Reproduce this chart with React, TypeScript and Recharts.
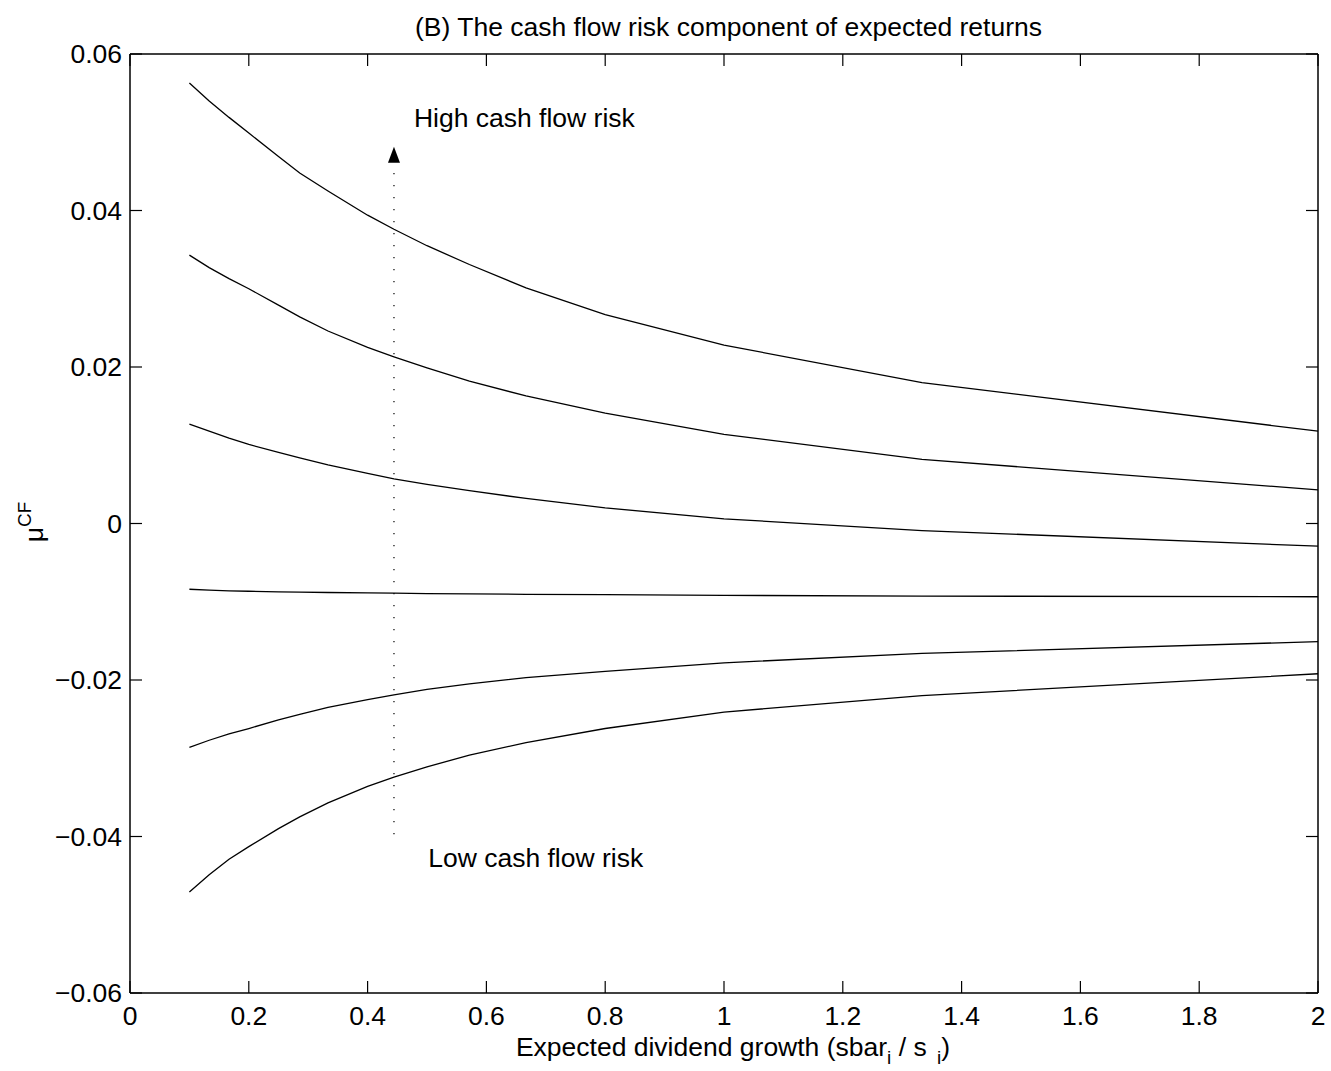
import { LineChart, Line, XAxis, YAxis, ReferenceLine, ReferenceDot } from "recharts";

// x grid of the computed curves (expected dividend growth)
const GROWTH = [0.1, 0.1333, 0.1667, 0.2, 0.25, 0.2857, 0.3333, 0.4, 0.4444, 0.5, 0.5714, 0.6667, 0.8, 1, 1.3333, 2];

// cash flow risk component, highest to lowest risk
const RISK_1 = [0.0563, 0.054, 0.0519, 0.0499, 0.0469, 0.0448, 0.0425, 0.0394, 0.0376, 0.0355, 0.0331, 0.0301, 0.0267, 0.0228, 0.018, 0.0118];
const RISK_2 = [0.0343, 0.0327, 0.0313, 0.03, 0.0279, 0.0264, 0.0246, 0.0225, 0.0213, 0.0199, 0.0182, 0.0163, 0.0141, 0.0114, 0.0082, 0.0043];
const RISK_3 = [0.0127, 0.0118, 0.0109, 0.0101, 0.0091, 0.0084, 0.0075, 0.0064, 0.0057, 0.005, 0.0042, 0.0032, 0.002, 0.0006, -0.0009, -0.0029];
const RISK_4 = [-0.0084, -0.00852, -0.0086, -0.00866, -0.00873, -0.00877, -0.00882, -0.00887, -0.0089, -0.00895, -0.009, -0.00905, -0.0091, -0.00918, -0.00928, -0.00936];
const RISK_5 = [-0.0286, -0.0277, -0.0269, -0.0262, -0.0251, -0.0244, -0.0235, -0.0225, -0.0219, -0.0212, -0.0205, -0.0197, -0.0189, -0.0178, -0.0166, -0.0151];
const RISK_6 = [-0.0471, -0.0449, -0.0429, -0.0413, -0.039, -0.0375, -0.0357, -0.0336, -0.0324, -0.0311, -0.0296, -0.028, -0.0262, -0.0241, -0.022, -0.0192];

const SERIES = [RISK_1, RISK_2, RISK_3, RISK_4, RISK_5, RISK_6];

const X_TICKS = [0, 0.2, 0.4, 0.6, 0.8, 1, 1.2, 1.4, 1.6, 1.8, 2];
const Y_TICKS = [-0.06, -0.04, -0.02, 0, 0.02, 0.04, 0.06];

// dotted arrow and its two captions
const ARROW_X = 0.4444;
const ARROW_FROM = -0.0397;
const ARROW_TO = 0.0461;
const HIGH_LABEL = { x: 0.478, y: 0.0518, text: "High cash flow risk" };
const LOW_LABEL = { x: 0.502, y: -0.0427, text: "Low cash flow risk" };

const FONT = "'Liberation Sans', Arial, Helvetica, sans-serif";
const FS = 26.5;

const data = GROWTH.map((x, i) => {
  const row: Record<string, number> = { x };
  SERIES.forEach((s, k) => (row[`s${k}`] = s[i]));
  return row;
});

const fmt = (v: number) => (v < 0 ? "\u2212" + String(-v) : String(v));
const blank = () => "";
const tickStyle = { fontSize: FS, fill: "#000" };
const axisLine = { stroke: "#000", strokeWidth: 1.5 };
const tickLine = { stroke: "#000", strokeWidth: 1.2 };

function Caption({ cx, cy, text }: { cx?: number; cy?: number; text: string }) {
  return (
    <text x={cx} y={cy} dominantBaseline="central" fontSize={FS} fill="#000">
      {text}
    </text>
  );
}

function ArrowHead({ cx, cy }: { cx?: number; cy?: number }) {
  if (cx == null || cy == null) return null;
  return <polygon points={`${cx - 6},${cy} ${cx + 6},${cy} ${cx},${cy - 16}`} fill="#000" />;
}

export default function App() {
  return (
    <div style={{ position: "absolute", left: 0, top: 0, width: 1331, height: 1071, background: "#fff", fontFamily: FONT }}>
      <div style={{ position: "absolute", left: 0, width: 1457, top: 12, textAlign: "center", fontSize: FS, lineHeight: "30px" }}>
        (B) The cash flow risk component of expected returns
      </div>
      <LineChart width={1331} height={1071} data={data} margin={{ top: 44, right: 3, bottom: 0, left: 0 }}>
        <XAxis
          dataKey="x"
          type="number"
          domain={[0, 2]}
          ticks={X_TICKS}
          tickFormatter={fmt}
          height={78}
          tickSize={-12}
          tickMargin={25}
          tick={tickStyle}
          axisLine={axisLine}
          tickLine={tickLine}
        />
        <XAxis
          xAxisId="top"
          dataKey="x"
          orientation="top"
          type="number"
          domain={[0, 2]}
          ticks={X_TICKS}
          tickFormatter={blank}
          height={10}
          tickSize={-12}
          axisLine={axisLine}
          tickLine={tickLine}
        />
        <YAxis
          type="number"
          domain={[-0.06, 0.06]}
          ticks={Y_TICKS}
          tickFormatter={fmt}
          width={130}
          tickSize={-12}
          tickMargin={20}
          tick={tickStyle}
          axisLine={axisLine}
          tickLine={tickLine}
        />
        <YAxis
          yAxisId="right"
          orientation="right"
          type="number"
          domain={[-0.06, 0.06]}
          ticks={Y_TICKS}
          tickFormatter={blank}
          width={10}
          tickSize={-12}
          axisLine={axisLine}
          tickLine={tickLine}
        />
        {SERIES.map((_, k) => (
          <Line
            key={k}
            dataKey={`s${k}`}
            type="linear"
            stroke="#000"
            strokeWidth={1.3}
            dot={false}
            activeDot={false}
            isAnimationActive={false}
          />
        ))}
        {/* invisible copy so the top and right box axes get a scale */}
        <Line
          xAxisId="top"
          yAxisId="right"
          dataKey="s3"
          type="linear"
          stroke="none"
          dot={false}
          activeDot={false}
          legendType="none"
          isAnimationActive={false}
        />
        <ReferenceLine
          segment={[
            { x: ARROW_X, y: ARROW_FROM },
            { x: ARROW_X, y: ARROW_TO },
          ]}
          stroke="#000"
          strokeWidth={1.2}
          strokeDasharray="1.2 10.8"
        />
        <ReferenceDot x={ARROW_X} y={ARROW_TO} r={0} shape={(p: any) => <ArrowHead cx={p.cx} cy={p.cy} />} />
        <ReferenceDot x={HIGH_LABEL.x} y={HIGH_LABEL.y} r={0} shape={(p: any) => <Caption cx={p.cx} cy={p.cy} text={HIGH_LABEL.text} />} />
        <ReferenceDot x={LOW_LABEL.x} y={LOW_LABEL.y} r={0} shape={(p: any) => <Caption cx={p.cx} cy={p.cy} text={LOW_LABEL.text} />} />
      </LineChart>
      <div style={{ position: "absolute", left: 0, width: 1466, top: 1032, textAlign: "center", fontSize: FS, lineHeight: "30px", whiteSpace: "nowrap" }}>
        Expected dividend growth (sbar<sub style={{ fontSize: 19, verticalAlign: "-8px" }}>i</sub> / s <sub style={{ fontSize: 19, verticalAlign: "-8px", marginLeft: 3 }}>i</sub>)
      </div>
      <div
        style={{
          position: "absolute",
          left: 29,
          top: 522,
          transform: "translate(-50%, -50%) rotate(-90deg)",
          fontSize: FS,
          whiteSpace: "nowrap",
          lineHeight: "30px",
        }}
      >
        μ<sup style={{ fontSize: 19, verticalAlign: "12px" }}>CF</sup>
      </div>
    </div>
  );
}
